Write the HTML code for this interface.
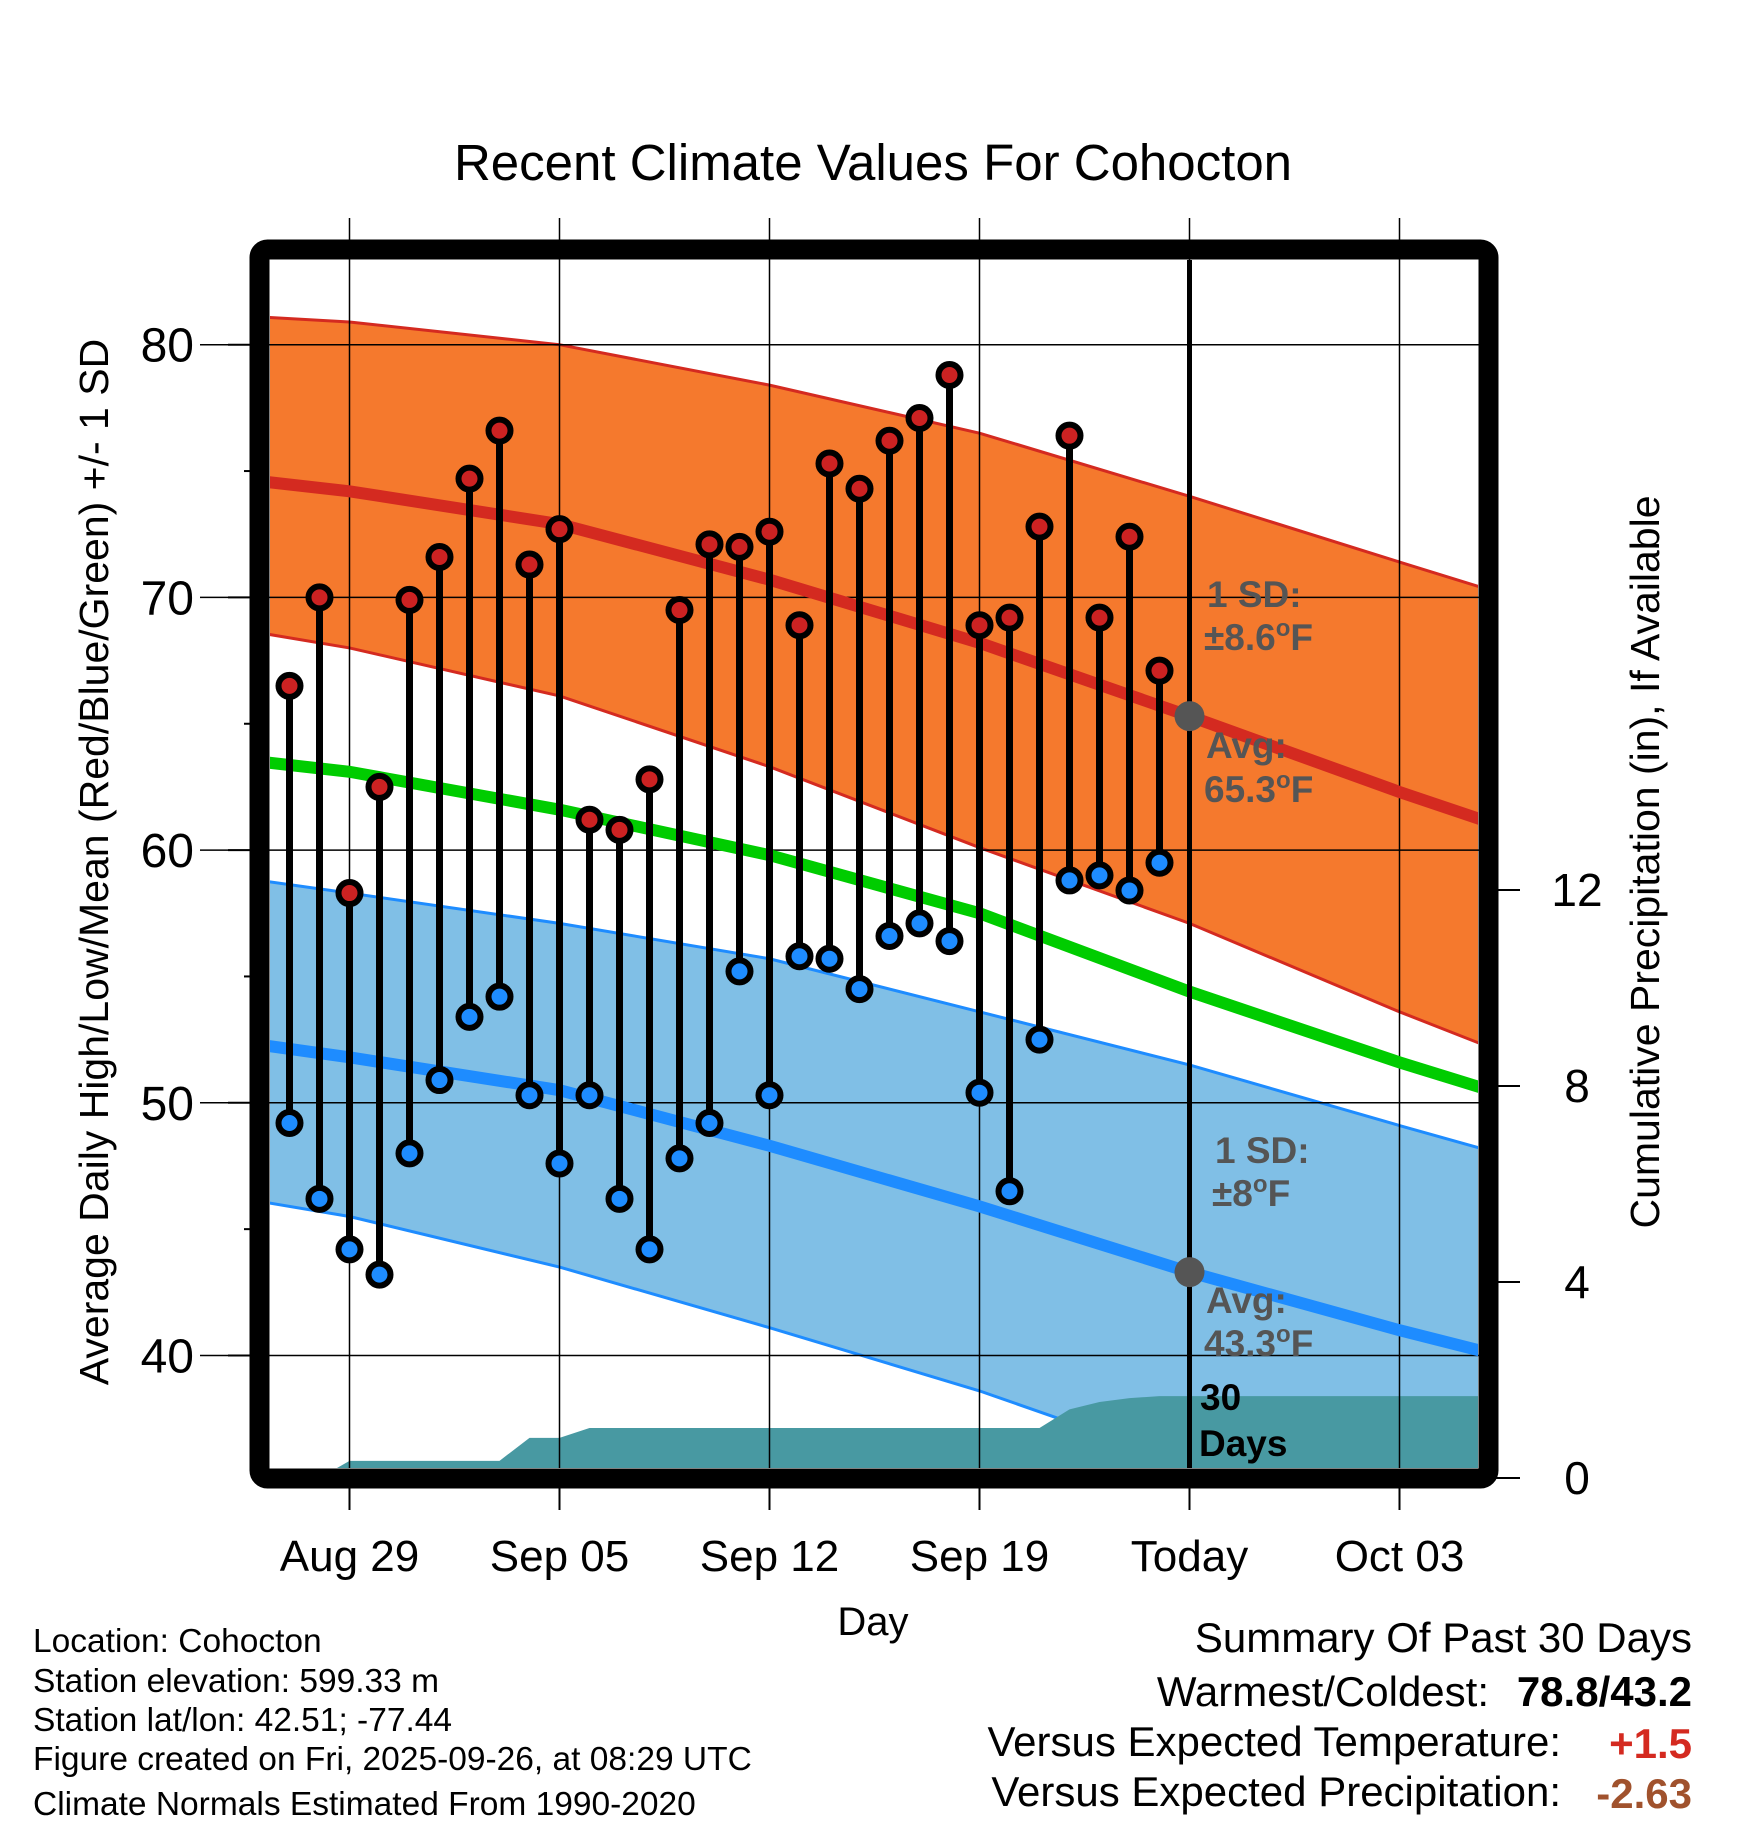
<!DOCTYPE html>
<html><head><meta charset="utf-8"><style>
html,body{margin:0;padding:0;background:#fff}
svg{display:block;font-family:"Liberation Sans",sans-serif}
</style></head><body>
<svg id="chart" width="1748" height="1828" viewBox="0 0 1748 1828">
<defs><clipPath id="plotclip"><rect x="270" y="260" width="1208" height="1208"/></clipPath></defs>
<g id="plot" clip-path="url(#plotclip)"></g>
<g id="over"></g>
</svg>
<script>
// days relative to Aug 29
const normDays = [-3, 0, 7, 14, 21, 28, 35, 38];
const normHighUpper = [81.1, 80.9, 80.0, 78.4, 76.5, 74.0, 71.4, 70.3];
const normHighMean  = [74.6, 74.2, 72.9, 70.7, 68.2, 65.3, 62.3, 61.1];
const normHighLower = [68.6, 68.0, 66.1, 63.3, 60.1, 57.1, 53.6, 52.2];
const normMean      = [63.5, 63.1, 61.6, 59.8, 57.5, 54.4, 51.6, 50.5];
const normLowUpper  = [58.8, 58.3, 57.1, 55.7, 53.6, 51.5, 49.1, 48.1];
const normLowMean   = [52.3, 51.8, 50.5, 48.3, 45.9, 43.3, 41.0, 40.1];
const normLowLower  = [46.1, 45.5, 43.5, 41.1, 38.6, 35.7, 33.5, 32.5];
const obsDays = [-2,-1,0,1,2,3,4,5,6,7,8,9,10,11,12,13,14,15,16,17,18,19,20,21,22,23,24,25,26,27];
const obsHigh = [66.5,70.0,58.3,62.5,69.9,71.6,74.7,76.6,71.3,72.7,61.2,60.8,62.8,69.5,72.1,72.0,72.6,68.9,75.3,74.3,76.2,77.1,78.8,68.9,69.2,72.8,76.4,69.2,72.4,67.1];
const obsLow  = [49.2,46.2,44.2,43.2,48.0,50.9,53.4,54.2,50.3,47.6,50.3,46.2,44.2,47.8,49.2,55.2,50.3,55.8,55.7,54.5,56.6,57.1,56.4,50.4,46.5,52.5,58.8,59.0,58.4,59.5];
const precipDays = [-2,-1,0,1,2,3,4,5,6,7,8,9,10,11,12,13,14,15,16,17,18,19,20,21,22,23,24,25,26,27,28,40];
const precipCum  = [0,0,0.35,0.35,0.35,0.35,0.35,0.35,0.82,0.82,1.02,1.02,1.02,1.02,1.02,1.02,1.02,1.02,1.02,1.02,1.02,1.02,1.02,1.02,1.02,1.02,1.40,1.55,1.63,1.67,1.67,1.67];
const tempTicks = [40,50,60,70,80];
const precipTicks = [0,4,8,12];
const dateTickDays = [0,7,14,21,28,35];
const dateTickLabels = ["Aug 29","Sep 05","Sep 12","Sep 19","Today","Oct 03"];

const X = d => 349.5 + 30*d;
const Y = f => 344.7 + (80-f)*25.27;
const YP = p => 1478 - 49*p;
const NS='http://www.w3.org/2000/svg';
const plot=document.getElementById('plot'), over=document.getElementById('over');
function mk(tag, attrs, parent){const e=document.createElementNS(NS,tag);for(const k in attrs)e.setAttribute(k,attrs[k]);parent.appendChild(e);return e;}
const line=(arr)=>normDays.map((d,i)=>X(d)+','+Y(arr[i])).join(' ');
function band(up,lo,fill,stroke,name){
  const pts=normDays.map((d,i)=>X(d)+','+Y(up[i])).concat(normDays.slice().reverse().map((d,j)=>{const i=normDays.length-1-j;return X(d)+','+Y(lo[i]);}));
  const p=mk('polygon',{points:pts.join(' '),fill:fill},plot);
  
  
  const a=mk('polyline',{points:line(up),fill:'none',stroke:stroke,'stroke-width':3},plot);
  
  
  const b=mk('polyline',{points:line(lo),fill:'none',stroke:stroke,'stroke-width':3},plot);
  
  
}
band(normHighUpper,normHighLower,'#f5792d','#d42a20','high-sd-band');
band(normLowUpper,normLowLower,'#80bfe6','#1e8cff','low-sd-band');
// precip
{
  const pts=precipDays.map((d,i)=>X(d)+','+YP(precipCum[i]));
  pts.push(X(40)+','+YP(0), X(-3)+','+YP(0));
  const p=mk('polygon',{points:pts.join(' '),fill:'#4899a2'},plot);
  
  
}
// gridlines
tempTicks.forEach(t=>{const g=mk('line',{x1:200,x2:1490,y1:Y(t),y2:Y(t),stroke:'#000','stroke-width':1.5},over);
  
  });
dateTickDays.forEach(d=>{const g=mk('line',{x1:X(d),x2:X(d),y1:218,y2:1468,stroke:'#000','stroke-width':1.5},over);
  
  });
// mean lines
[[normHighMean,'#d42a20','high-mean-line'],[normMean,'#00cc00','mean-line'],[normLowMean,'#1e8cff','low-mean-line']].forEach(([a,c,n])=>{
  const l=mk('polyline',{points:line(a),fill:'none',stroke:c,'stroke-width':12,'clip-path':'url(#plotclip)'},over);
  
  
});
// stems
obsDays.forEach((d,i)=>{
  const s=mk('line',{x1:X(d),x2:X(d),y1:Y(obsHigh[i]),y2:Y(obsLow[i]),stroke:'#000','stroke-width':7},over);
  
  
});
obsDays.forEach((d,i)=>{
  const h=mk('circle',{cx:X(d),cy:Y(obsHigh[i]),r:11,fill:'#cc2222',stroke:'#000','stroke-width':6},over);
  
  
  const l=mk('circle',{cx:X(d),cy:Y(obsLow[i]),r:11,fill:'#1e8cff',stroke:'#000','stroke-width':6},over);
  
  
});
// today line
{const t=mk('line',{x1:X(28),x2:X(28),y1:260,y2:1468,stroke:'#000','stroke-width':5},over);
 
 
 const a=mk('circle',{cx:X(28),cy:Y(normHighMean[5]),r:15,fill:'#555'},over);
 
 
 const b=mk('circle',{cx:X(28),cy:Y(normLowMean[5]),r:15,fill:'#555'},over);
 
 }
// ticks
tempTicks.forEach(t=>{
  const tk=mk('line',{x1:228,x2:260,y1:Y(t),y2:Y(t),stroke:'#000','stroke-width':2},over);
  
  
  const tx=mk('text',{x:194,y:Y(t)+17,'text-anchor':'end','font-size':48},over);
  tx.textContent=t;
  
  
});
[45,55,65,75].forEach(t=>{const tk=mk('line',{x1:244,x2:260,y1:Y(t),y2:Y(t),stroke:'#000','stroke-width':2},over);
  
  });
precipTicks.forEach(p=>{
  const tk=mk('line',{x1:1490,x2:1520,y1:YP(p),y2:YP(p),stroke:'#000','stroke-width':2},over);
  
  
  const tx=mk('text',{x:1577,y:YP(p)+16,'text-anchor':'middle','font-size':46},over);
  tx.textContent=p;
  
  
});
dateTickDays.forEach((d,i)=>{
  const tk=mk('line',{x1:X(d),x2:X(d),y1:1488,y2:1510,stroke:'#000','stroke-width':2},over);
  
  
  const tx=mk('text',{x:X(d),y:1571,'text-anchor':'middle','font-size':44},over);
  tx.textContent=dateTickLabels[i];
  
  
});
</script>
<script>
const S=document.getElementById('chart');
S.insertAdjacentHTML('beforeend',`
<rect x="259.5" y="249.5" width="1229" height="1229" rx="8" fill="none" stroke="#000" stroke-width="20"/>
<g font-weight="bold" font-size="37" fill="#555">
<text x="1207" y="607">1 SD:</text>
<text x="1204" y="650">±8.6<tspan dy="-14" font-size="24">o</tspan><tspan dy="14">F</tspan></text>
<text x="1206" y="758">Avg:</text>
<text x="1204" y="802">65.3<tspan dy="-14" font-size="24">o</tspan><tspan dy="14">F</tspan></text>
<text x="1215" y="1163">1 SD:</text>
<text x="1212" y="1206">±8<tspan dy="-14" font-size="24">o</tspan><tspan dy="14">F</tspan></text>
<text x="1206" y="1313">Avg:</text>
<text x="1204" y="1356">43.3<tspan dy="-14" font-size="24">o</tspan><tspan dy="14">F</tspan></text>
<text x="1200" y="1410" fill="#000">30</text>
<text x="1199" y="1456" fill="#000">Days</text>
</g>
<text x="873" y="180" text-anchor="middle" font-size="51">Recent Climate Values For Cohocton</text>
<text transform="translate(108,862) rotate(-90)" text-anchor="middle" font-size="41">Average Daily High/Low/Mean (Red/Blue/Green) +/- 1 SD</text>
<text transform="translate(1659,862) rotate(-90)" text-anchor="middle" font-size="41">Cumulative Precipitation (in), If Available</text>
<text x="873" y="1635" text-anchor="middle" font-size="40">Day</text>
<g font-size="33.5">
<text x="33" y="1652">Location: Cohocton</text>
<text x="33" y="1692">Station elevation: 599.33 m</text>
<text x="33" y="1731">Station lat/lon: 42.51; -77.44</text>
<text x="33" y="1770">Figure created on Fri, 2025-09-26, at 08:29 UTC</text>
<text x="33" y="1815">Climate Normals Estimated From 1990-2020</text>
</g>
<g font-size="42" text-anchor="end">
<text x="1692" y="1652">Summary Of Past 30 Days</text>
<text x="1489" y="1706">Warmest/Coldest:</text>
<text x="1692" y="1706" font-weight="bold">78.8/43.2</text>
<text x="1561" y="1756">Versus Expected Temperature:</text>
<text x="1692" y="1758" font-weight="bold" fill="#d42a20">+1.5</text>
<text x="1561" y="1806">Versus Expected Precipitation:</text>
<text x="1692" y="1808" font-weight="bold" fill="#a0522d">-2.63</text>
</g>`);
</script>
</body></html>
